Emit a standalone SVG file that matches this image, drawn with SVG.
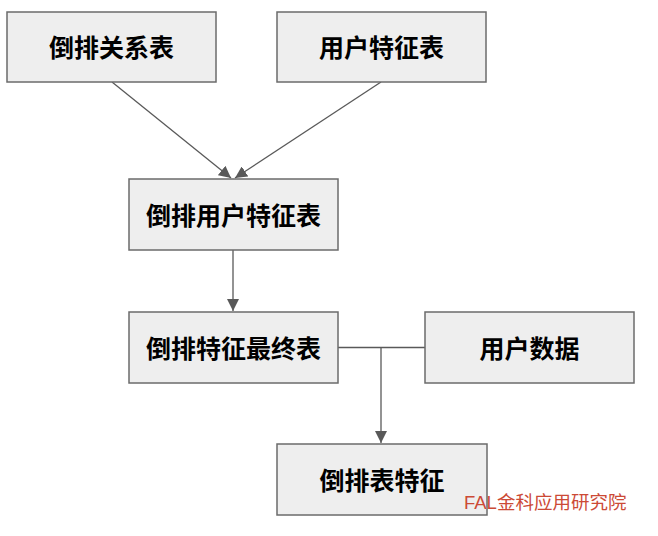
<svg xmlns="http://www.w3.org/2000/svg" width="658" height="536" viewBox="0 0 658 536">
<style>
.box{fill:#eeeeee;stroke:#6b6b6b;stroke-width:1.5}
.lbl{font-family:"Noto Sans CJK SC","Liberation Sans",sans-serif;font-size:25px;font-weight:bold;fill:#000;text-anchor:middle;dominant-baseline:central}
.edge{stroke:#595959;stroke-width:1.3;fill:none}
.wm{font-family:"Liberation Sans","Noto Sans CJK SC",sans-serif;font-size:18.5px;fill:#cc4a36}
</style>
<defs>
<marker id="arr" viewBox="0 0 12 12" refX="12" refY="6" markerWidth="12" markerHeight="12" markerUnits="userSpaceOnUse" orient="auto">
<path d="M0,0 L12,6 L0,12 z" fill="#595959"/>
</marker>
</defs>
<g id="edges">
<line class="edge" x1="112" y1="82" x2="231" y2="178" marker-end="url(#arr)"/>
<line class="edge" x1="381" y1="82" x2="235" y2="178" marker-end="url(#arr)"/>
<line class="edge" x1="233" y1="250" x2="233" y2="311" marker-end="url(#arr)"/>
<polyline class="edge" points="338,347.5 425,347.5"/>
<line class="edge" x1="381" y1="347.5" x2="381" y2="443" marker-end="url(#arr)"/>
</g>
<g id="n1"><rect class="box" x="7" y="12" width="209" height="70"/><text class="lbl" x="111.5" y="46">倒排关系表</text></g>
<g id="n2"><rect class="box" x="277" y="12" width="209" height="70"/><text class="lbl" x="381.5" y="46">用户特征表</text></g>
<g id="n3"><rect class="box" x="129" y="179" width="209" height="71"/><text class="lbl" x="233.5" y="213.5">倒排用户特征表</text></g>
<g id="n4"><rect class="box" x="129" y="312" width="209" height="71"/><text class="lbl" x="233.5" y="346.5">倒排特征最终表</text></g>
<g id="n5"><rect class="box" x="425" y="312" width="209" height="71"/><text class="lbl" x="529.5" y="346.5">用户数据</text></g>
<g id="n6"><rect class="box" x="277" y="444" width="210" height="71"/><text class="lbl" x="382" y="478.5">倒排表特征</text></g>
<text class="wm" x="464" y="509">FAL金科应用研究院</text>
</svg>
